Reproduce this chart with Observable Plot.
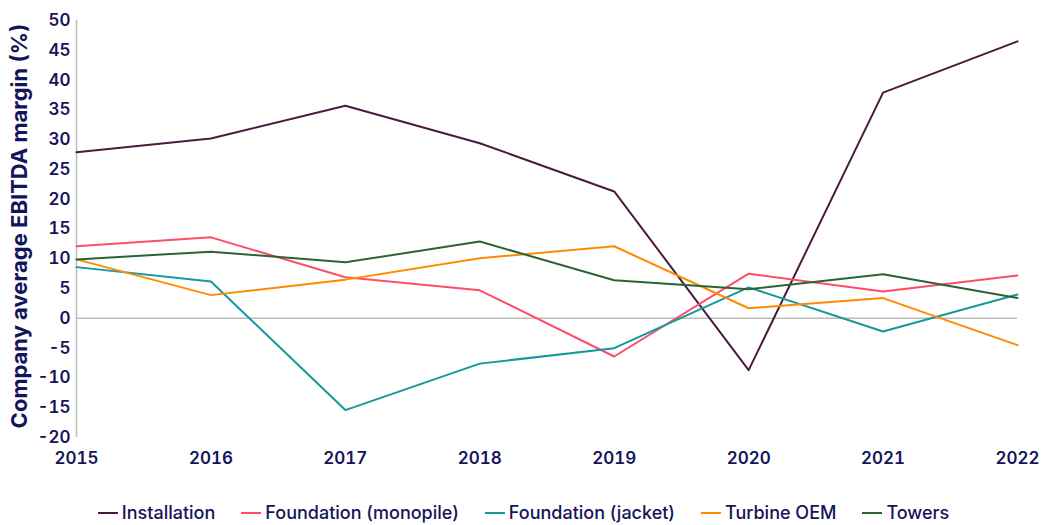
<!DOCTYPE html>
<html><head><meta charset="utf-8">
<script src="https://cdn.jsdelivr.net/npm/d3@7"></script>
<script src="https://cdn.jsdelivr.net/npm/@observablehq/plot@0.6"></script>
<style>
body{margin:0;background:#fff;font-family:Inter,"Noto Sans",sans-serif;}
#legend{display:flex;justify-content:center;gap:26px;font-size:18px;color:#14145a;font-weight:500;margin-top:22px;padding-right:10px;}
#legend span{display:flex;align-items:center;}
#legend i{display:inline-block;width:20px;height:2px;margin-right:4px;}
</style></head>
<body><div id="chart"></div><div id="legend"></div>
<script>
const years = [2015,2016,2017,2018,2019,2020,2021,2022];
const seriesNames = ["Installation","Foundation (monopile)","Foundation (jacket)","Turbine OEM","Towers"];
const colors = ["#4b1a3e","#ff4d67","#13999b","#ff8a00","#2b6434"];
const installation = [27.9,30.2,35.7,29.4,21.3,-8.7,37.9,46.5];
const monopile = [12.1,13.6,6.9,4.7,-6.4,7.5,4.5,7.2];
const jacket = [8.6,6.2,-15.4,-7.6,-5.0,5.2,-2.2,4.0];
const turbine = [9.9,3.9,6.5,10.1,12.1,1.7,3.4,-4.5];
const towers = [9.9,11.2,9.4,12.9,6.4,4.9,7.4,3.4];
const yTicks = d3.range(-20,51,5);
const allSeries = [installation,monopile,jacket,turbine,towers];
const data = [];
allSeries.forEach((s,i)=>s.forEach((v,j)=>data.push({year:years[j],value:v,series:seriesNames[i]})));
const textColor = "#14145a";
const chart = Plot.plot({
  width:1057, height:480,
  marginLeft:76, marginRight:40, marginTop:20, marginBottom:43,
  style:{fontFamily:"Inter, 'Noto Sans', sans-serif", fontSize:"17px", color:textColor, fontWeight:600},
  x:{type:"linear", domain:[2015,2022], label:null, axis:null},
  y:{domain:[-20,50], label:null, axis:null},
  color:{domain:seriesNames, range:colors},
  marks:[
    Plot.ruleX([2015],{stroke:"#bbb",strokeWidth:1.5}),
    Plot.ruleY([0],{stroke:"#bbb",strokeWidth:1.5}),
    Plot.line(data,{x:"year",y:"value",z:"series",stroke:"series",strokeWidth:2}),
    Plot.axisX({ticks:years, tickFormat:d=>String(d), tickSize:0, tickPadding:14, fontSize:17, fontWeight:600, fill:textColor, label:null}),
    Plot.axisY({ticks:yTicks, tickFormat:d=>String(d), tickSize:0, tickPadding:6, fontSize:17, fontWeight:600, fill:textColor, label:null}),
    Plot.text(["Company average EBITDA margin (%)"],{frameAnchor:"left", dx:-57, dy:-3, rotate:-90, textAnchor:"middle", fontSize:22, fontWeight:700, fill:textColor})
  ]
});
document.getElementById("chart").appendChild(chart);
const lg = document.getElementById("legend");
seriesNames.forEach((n,i)=>{
  const s=document.createElement("span");
  s.innerHTML=`<i style="background:${colors[i]}"></i>${n}`;
  lg.appendChild(s);
});
</script></body></html>
